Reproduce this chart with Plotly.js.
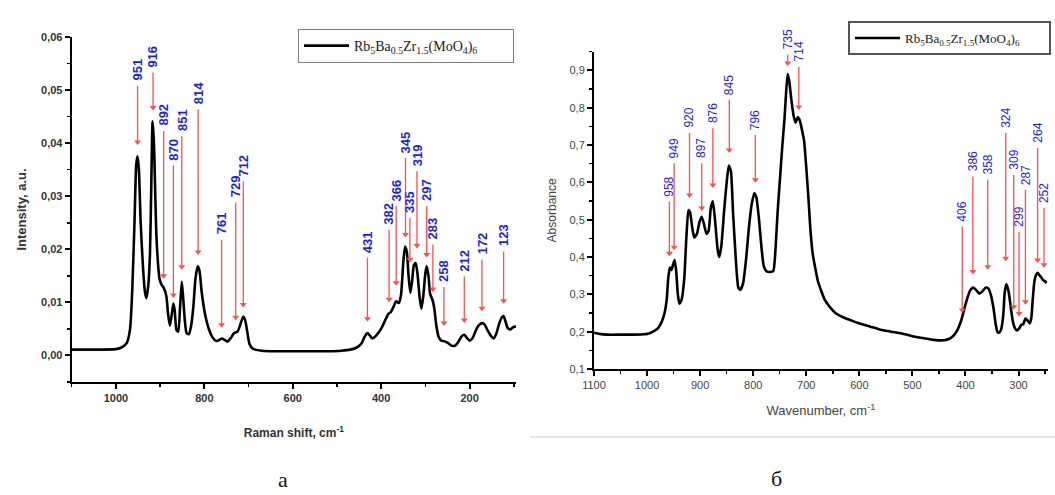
<!DOCTYPE html>
<html><head><meta charset="utf-8">
<script src="https://cdn.plot.ly/plotly-3.0.1.min.js"></script>
<style>html,body{margin:0;padding:0;background:#fff;overflow:hidden;} #chart{width:1055px;height:495px;}</style>
</head><body><div id="chart"></div>
<script>
// ---------- DATA ----------
const seriesName = 'Rb<sub>5</sub>Ba<sub>0.5</sub>Zr<sub>1.5</sub>(MoO<sub>4</sub>)<sub>6</sub>';

// (a) Raman spectrum
const ramanX = [1100,1050,1000,990,982,975,968,963,958,954,951,948,944,938,934,931,927,923,920,917,914,908,901,896,892,886,882,878,874,870,867,863,859,855,851,848,844,840,835,830,825,820,815,811,806,800,795,789,782,775,768,761,755,748,740,733,725,717,712,708,703,698,692,685,670,640,600,560,520,490,470,455,445,437,431,426,420,413,405,397,390,384,378,372,366,360,355,350,346,342,338,334,330,326,322,318,313,309,305,300,297,293,289,284,280,275,270,264,258,250,242,234,226,218,212,206,200,193,186,179,172,166,159,152,146,140,133,127,123,119,114,108,102,95];
const ramanY = [0.0011,0.0011,0.0012,0.0014,0.0018,0.0024,0.0050,0.0124,0.0250,0.0360,0.0375,0.0350,0.0250,0.0156,0.0118,0.0108,0.0130,0.0190,0.0320,0.0441,0.0400,0.0218,0.0143,0.0132,0.0128,0.0112,0.0078,0.0056,0.0075,0.0098,0.0085,0.0048,0.0045,0.0090,0.0139,0.0110,0.0065,0.0042,0.0040,0.0055,0.0090,0.0145,0.0168,0.0160,0.0120,0.0085,0.0065,0.0048,0.0035,0.0028,0.0028,0.0032,0.0030,0.0026,0.0033,0.0042,0.0045,0.0062,0.0073,0.0068,0.0045,0.0022,0.0014,0.0011,0.0009,0.0008,0.0008,0.0008,0.0008,0.0009,0.0011,0.0015,0.0022,0.0036,0.0042,0.0038,0.0032,0.0036,0.0044,0.0055,0.0068,0.0078,0.0082,0.0092,0.0102,0.0099,0.0115,0.0175,0.0205,0.0195,0.0150,0.0118,0.0140,0.0170,0.0174,0.0155,0.0110,0.0088,0.0110,0.0155,0.0168,0.0150,0.0115,0.0105,0.0090,0.0055,0.0035,0.0028,0.0027,0.0024,0.0019,0.0018,0.0025,0.0036,0.0039,0.0033,0.0028,0.0033,0.0047,0.0057,0.0061,0.0058,0.0047,0.0037,0.0032,0.0040,0.0060,0.0072,0.0074,0.0065,0.0052,0.0049,0.0053,0.0055];
const ramanPeaks = [951,916,892,870,851,814,761,729,712,431,382,366,345,335,319,297,283,258,212,172,123];
const ramanArrowTip = [0.0402,0.0467,0.0150,0.0114,0.0167,0.0195,0.0058,0.0072,0.0096,0.0069,0.0106,0.0137,0.0228,0.0181,0.0207,0.0190,0.0125,0.0061,0.0067,0.0089,0.0103];
const ramanArrowTail = [0.0508,0.0533,0.0423,0.0358,0.0413,0.0464,0.0218,0.0288,0.0328,0.0184,0.0237,0.0281,0.0372,0.0259,0.0347,0.0281,0.0209,0.0129,0.0149,0.0181,0.0196];
const ramanXTicks = [1000,800,600,400,200];
const ramanYTicks = [0,0.01,0.02,0.03,0.04,0.05,0.06];
const ramanYTickText = ['0,00','0,01','0,02','0,03','0,04','0,05','0,06'];

// (б) IR spectrum
const irX = [1100,1090,1075,1050,1025,1005,995,985,978,972,967,963,960,957,954,951,948,945,942,939,935,930,926,922,919,915,911,906,901,897,893,888,884,880,876,872,867,864,860,855,850,846,842,838,833,828,824,819,813,808,803,798,794,789,784,780,775,768,762,758,754,749,745,741,738,735,732,728,724,720,716,712,708,704,700,696,692,688,683,678,672,665,655,645,630,615,600,580,560,540,520,500,480,460,440,430,422,415,408,402,396,390,385,380,374,368,362,357,352,347,343,340,337,333,329,326,323,319,315,311,307,303,299,295,291,287,283,279,276,273,270,267,264,261,257,254,250,247];
const irY = [0.197,0.194,0.192,0.192,0.192,0.193,0.196,0.203,0.212,0.228,0.250,0.285,0.345,0.372,0.365,0.380,0.392,0.360,0.300,0.275,0.285,0.340,0.450,0.526,0.520,0.480,0.452,0.462,0.495,0.508,0.490,0.462,0.470,0.530,0.549,0.500,0.420,0.400,0.430,0.520,0.600,0.645,0.630,0.520,0.400,0.318,0.312,0.330,0.400,0.480,0.540,0.571,0.560,0.500,0.420,0.375,0.362,0.360,0.363,0.420,0.520,0.620,0.700,0.770,0.840,0.890,0.870,0.820,0.780,0.760,0.775,0.765,0.740,0.710,0.640,0.560,0.470,0.410,0.370,0.335,0.310,0.285,0.265,0.250,0.238,0.230,0.222,0.214,0.205,0.200,0.195,0.188,0.183,0.178,0.177,0.181,0.190,0.205,0.230,0.262,0.292,0.313,0.318,0.312,0.302,0.308,0.318,0.316,0.298,0.262,0.220,0.200,0.197,0.205,0.240,0.305,0.327,0.310,0.270,0.230,0.210,0.203,0.208,0.218,0.220,0.235,0.230,0.222,0.235,0.290,0.335,0.352,0.358,0.352,0.345,0.338,0.335,0.330];
const irPeaks = [958,949,920,897,876,845,796,735,714,406,386,358,324,309,299,287,264,252];
const irArrowTip = [0.410,0.426,0.566,0.531,0.593,0.687,0.607,0.920,0.802,0.258,0.361,0.374,0.397,0.267,0.249,0.280,0.392,0.379];
const irArrowTail = [0.549,0.651,0.732,0.651,0.745,0.821,0.727,0.942,0.910,0.482,0.616,0.607,0.732,0.620,0.468,0.580,0.692,0.531];
const irXTicks = [1100,1000,900,800,700,600,500,400,300];
const irYTicks = [0.1,0.2,0.3,0.4,0.5,0.6,0.7,0.8,0.9];
const irYTickText = ['0,1','0,2','0,3','0,4','0,5','0,6','0,7','0,8','0,9'];

const panelLabels = ['а','б'];

// ---------- LAYOUT HELPERS ----------
const W = 1055, H = 495;
const fx = p => p / W;
const fy = p => 1 - p / H;
const ARROW = 'rgb(250,80,80)';
const BLUE = 'rgb(30,30,225)';

const traces = [
  {x: ramanX, y: ramanY, xaxis: 'x', yaxis: 'y', type: 'scatter', mode: 'lines',
   line: {color: '#000', width: 2.6, shape: 'spline', smoothing: 0.6}, name: seriesName, legend: 'legend'},
  {x: irX, y: irY, xaxis: 'x2', yaxis: 'y2', type: 'scatter', mode: 'lines',
   line: {color: '#000', width: 2.6, shape: 'spline', smoothing: 0.5}, name: seriesName, legend: 'legend2'},
  // arrowheads
  {x: ramanPeaks, y: ramanArrowTip, xaxis: 'x', yaxis: 'y', type: 'scatter', mode: 'markers',
   marker: {symbol: 'triangle-down', size: 6, color: ARROW}, showlegend: false, hoverinfo: 'skip', cliponaxis: false},
  {x: irPeaks, y: irArrowTip, xaxis: 'x2', yaxis: 'y2', type: 'scatter', mode: 'markers',
   marker: {symbol: 'triangle-down', size: 6, color: ARROW}, showlegend: false, hoverinfo: 'skip', cliponaxis: false}
];

const annotations = [];
const shapes = [];
function addPeaks(peaks, tips, tails, xr, yr, font) {
  peaks.forEach((p, i) => {
    shapes.push({type: 'line', xref: xr, yref: yr, x0: p, x1: p, y0: tails[i], y1: tips[i],
      line: {color: ARROW, width: 1.3}});
    annotations.push({x: p, y: tails[i], xref: xr, yref: yr, text: String(p), showarrow: false,
      textangle: -90, xanchor: 'center', yanchor: 'bottom', yshift: 3, font: font});
  });
}
addPeaks(ramanPeaks, ramanArrowTip, ramanArrowTail, 'x', 'y',
  {family: 'Arial, Liberation Sans, sans-serif', size: 13, color: BLUE, weight: 'bold'});
addPeaks(irPeaks, irArrowTip, irArrowTail, 'x2', 'y2',
  {family: 'Liberation Sans Narrow, Arial, sans-serif', size: 12, color: BLUE});

annotations.push({xref: 'paper', yref: 'paper', x: fx(283), y: fy(479), text: panelLabels[0], showarrow: false,
  xanchor: 'center', yanchor: 'middle', font: {family: 'Liberation Serif, Times New Roman, serif', size: 22, color: '#111'}});
annotations.push({xref: 'paper', yref: 'paper', x: fx(776), y: fy(478), text: panelLabels[1], showarrow: false,
  xanchor: 'center', yanchor: 'middle', font: {family: 'Liberation Serif, Times New Roman, serif', size: 22, color: '#111'}});

shapes.push({type: 'line', xref: 'paper', yref: 'paper', x0: fx(530), x1: 1, y0: fy(437), y1: fy(437),
  line: {color: '#e6e6e6', width: 2}});

const axBase = {showline: true, linecolor: '#000', linewidth: 2, mirror: false, ticks: 'outside',
  ticklen: 5, tickwidth: 2, tickcolor: '#000', showgrid: false, zeroline: false, fixedrange: true};
const boldTick = {family: 'Arial, Liberation Sans, sans-serif', size: 11, color: '#333', weight: 'bold'};
const plainTick = {family: 'Arial, Liberation Sans, sans-serif', size: 11, color: '#444'};

const layout = {
  width: W, height: H, margin: {l: 0, r: 0, t: 0, b: 0},
  paper_bgcolor: '#fff', plot_bgcolor: '#fff',
  xaxis: Object.assign({}, axBase, {domain: [fx(71.7), fx(516)], range: [1100, 95], anchor: 'y',
    tickmode: 'array', tickvals: ramanXTicks, ticktext: ramanXTicks.map(String), tickfont: boldTick,
    minor: {ticks: 'outside', ticklen: 3, tickwidth: 1.5, tickcolor: '#000', tick0: 1100, dtick: 100},
    title: {text: 'Raman shift, cm<sup>-1</sup>', standoff: 25,
      font: {family: 'Arial, Liberation Sans, sans-serif', size: 12, color: '#333', weight: 'bold'}}}),
  yaxis: Object.assign({}, axBase, {domain: [fy(382), fy(37)], range: [-0.005, 0.06], anchor: 'x',
    tickmode: 'array', tickvals: ramanYTicks, ticktext: ramanYTickText, tickfont: boldTick,
    minor: {ticks: 'outside', ticklen: 3, tickwidth: 1.5, tickcolor: '#000', tick0: -0.005, dtick: 0.01},
    title: {text: 'Intensity, a.u.', standoff: 12,
      font: {family: 'Arial, Liberation Sans, sans-serif', size: 13, color: '#333', weight: 'bold'}}}),
  xaxis2: Object.assign({}, axBase, {domain: [fx(594), fx(1047.7)], range: [1100, 245], anchor: 'y2',
    tickmode: 'array', tickvals: irXTicks, ticktext: irXTicks.map(String), tickfont: plainTick,
    minor: {ticks: 'outside', ticklen: 3, tickwidth: 1.5, tickcolor: '#000', tick0: 1050, dtick: 100},
    title: {text: 'Wavenumber, cm<sup>-1</sup>', standoff: 16,
      font: {family: 'Arial, Liberation Sans, sans-serif', size: 13, color: '#444'}}}),
  yaxis2: Object.assign({}, axBase, {domain: [fy(369), fy(51.7)], range: [0.1, 0.95], anchor: 'x2',
    tickmode: 'array', tickvals: irYTicks, ticktext: irYTickText, tickfont: plainTick,
    minor: {ticks: 'outside', ticklen: 3, tickwidth: 1.5, tickcolor: '#000', tick0: 0.15, dtick: 0.1},
    title: {text: 'Absorbance', standoff: 10,
      font: {family: 'Arial, Liberation Sans, sans-serif', size: 12, color: '#444'}}}),
  showlegend: true,
  legend: {x: fx(298), y: fy(29), xanchor: 'left', yanchor: 'top', bgcolor: '#fff',
    orientation: 'h', entrywidth: 154, itemwidth: 45,
    bordercolor: '#808080', borderwidth: 1,
    font: {family: 'Liberation Serif, Times New Roman, serif', size: 14, color: '#222'}},
  legend2: {x: fx(848), y: fy(21), xanchor: 'left', yanchor: 'top', bgcolor: '#fff',
    orientation: 'h', entrywidth: 139, itemwidth: 45,
    bordercolor: '#555', borderwidth: 2,
    font: {family: 'Liberation Serif, Times New Roman, serif', size: 13, color: '#222'}},
  shapes: shapes,
  annotations: annotations
};

Plotly.newPlot('chart', traces, layout, {displayModeBar: false, staticPlot: true});
</script></body></html>
